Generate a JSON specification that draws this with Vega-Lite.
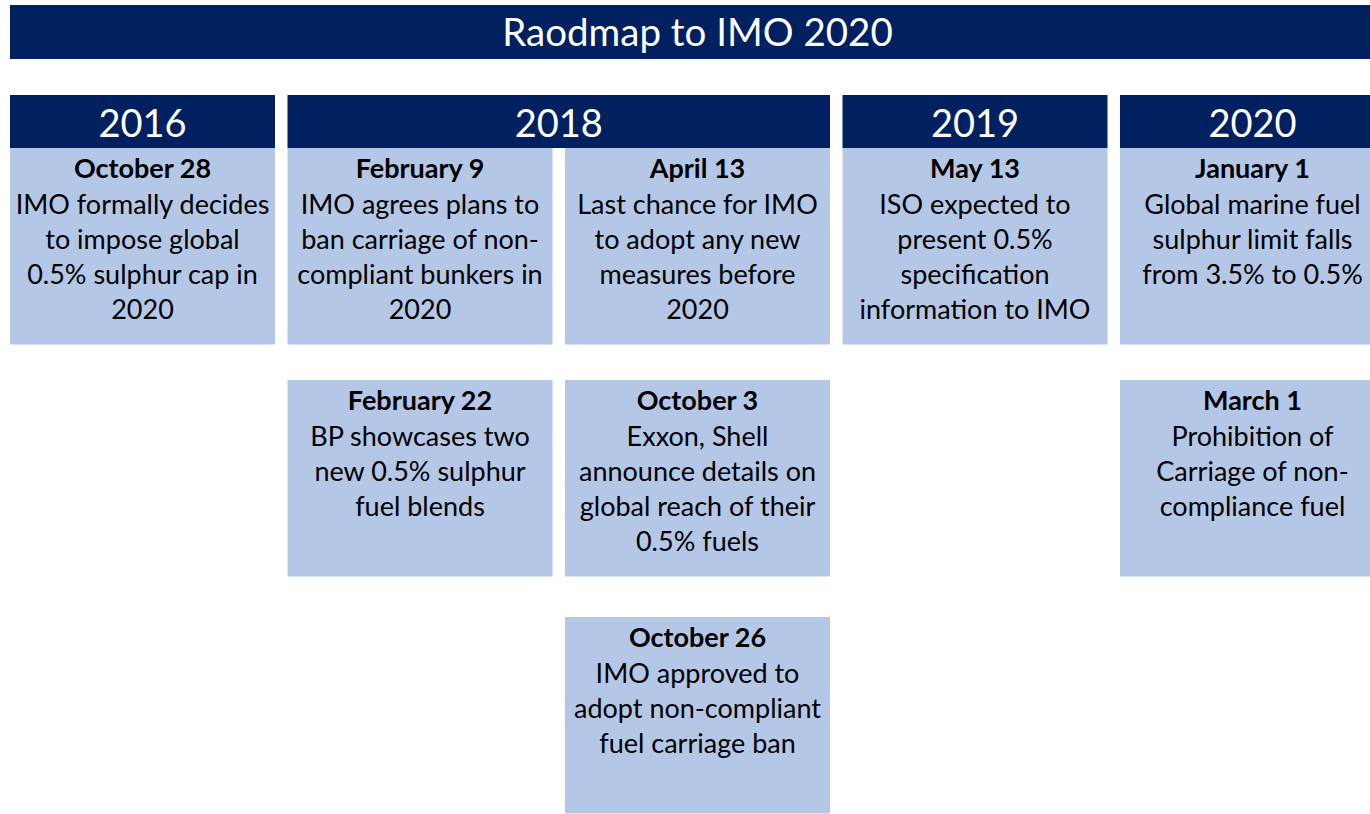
{
  "$schema": "https://vega.github.io/schema/vega-lite/v6.json",
  "width": 1370,
  "height": 814,
  "padding": 0,
  "autosize": {"type": "none"},
  "background": "white",
  "config": {"view": {"stroke": null}},
  "datasets": {
    "title": [{"label": "Raodmap to IMO 2020", "colStart": 0, "colEnd": 5, "row": 1}],
    "years": [
      {"year": "2016", "colStart": 0, "colEnd": 1, "row": 1, "span": 1},
      {"year": "2018", "colStart": 1, "colEnd": 3, "row": 1, "span": 2},
      {"year": "2019", "colStart": 3, "colEnd": 4, "row": 1, "span": 1},
      {"year": "2020", "colStart": 4, "colEnd": 5, "row": 1, "span": 1}
    ],
    "events": [
      {"date": "October 28", "text": "IMO formally decides\nto impose global\n0.5% sulphur cap in\n2020", "col": 0, "row": 1},
      {"date": "February 9", "text": "IMO agrees plans to\nban carriage of non-\ncompliant bunkers in\n2020", "col": 1, "row": 1},
      {"date": "April 13", "text": "Last chance for IMO\nto adopt any new\nmeasures before\n2020", "col": 2, "row": 1},
      {"date": "May 13", "text": "ISO expected to\npresent 0.5%\nspecification\ninformation to IMO", "col": 3, "row": 1},
      {"date": "January 1", "text": "Global marine fuel\nsulphur limit falls\nfrom 3.5% to 0.5%", "col": 4, "row": 1},
      {"date": "February 22", "text": "BP showcases two\nnew 0.5% sulphur\nfuel blends", "col": 1, "row": 2},
      {"date": "October 3", "text": "Exxon, Shell\nannounce details on\nglobal reach of their\n0.5% fuels", "col": 2, "row": 2},
      {"date": "March 1", "text": "Prohibition of\nCarriage of non-\ncompliance fuel", "col": 4, "row": 2},
      {"date": "October 26", "text": "IMO approved to\nadopt non-compliant\nfuel carriage ban", "col": 2, "row": 3}
    ]
  },
  "layer": [
    {
      "data": {"name": "title"},
      "mark": {"type": "rect", "color": "#002060", "yOffset": -143, "y2Offset": -89},
      "encoding": {
        "x": {"field": "colStart", "type": "quantitative", "scale": {"domain": [0, 5], "range": [10, 1397.5], "nice": false, "zero": false}, "axis": null},
        "x2": {"field": "colEnd"},
        "y": {"field": "row", "type": "quantitative", "scale": {"domain": [1, 2, 3], "range": [148, 380, 617], "nice": false, "zero": false}, "axis": null},
        "y2": {"field": "row"}
      }
    },
    {
      "data": {"name": "title"},
      "mark": {"type": "text", "color": "white", "font": "Lato", "fontSize": 38.5, "align": "center", "baseline": "alphabetic", "dx": 687.5, "dy": -102},
      "encoding": {
        "x": {"field": "colStart", "type": "quantitative"},
        "y": {"field": "row", "type": "quantitative"},
        "text": {"field": "label"}
      }
    },
    {
      "data": {"name": "years"},
      "mark": {"type": "rect", "color": "#002060", "yOffset": -53, "x2Offset": -12.5},
      "encoding": {
        "x": {"field": "colStart", "type": "quantitative"},
        "x2": {"field": "colEnd"},
        "y": {"field": "row", "type": "quantitative"},
        "y2": {"field": "row"}
      }
    },
    {
      "data": {"name": "years"},
      "transform": [{"filter": "datum.span == 1"}],
      "mark": {"type": "text", "color": "white", "font": "Lato", "fontSize": 38, "align": "center", "baseline": "alphabetic", "dx": 132.5, "dy": -11},
      "encoding": {
        "x": {"field": "colStart", "type": "quantitative"},
        "y": {"field": "row", "type": "quantitative"},
        "text": {"field": "year"}
      }
    },
    {
      "data": {"name": "years"},
      "transform": [{"filter": "datum.span == 2"}],
      "mark": {"type": "text", "color": "white", "font": "Lato", "fontSize": 38, "align": "center", "baseline": "alphabetic", "dx": 271.25, "dy": -11},
      "encoding": {
        "x": {"field": "colStart", "type": "quantitative"},
        "y": {"field": "row", "type": "quantitative"},
        "text": {"field": "year"}
      }
    },
    {
      "data": {"name": "events"},
      "mark": {"type": "rect", "color": "#B4C7E7", "x2Offset": 265, "y2Offset": 196.5},
      "encoding": {
        "x": {"field": "col", "type": "quantitative"},
        "x2": {"field": "col"},
        "y": {"field": "row", "type": "quantitative"},
        "y2": {"field": "row"}
      }
    },
    {
      "data": {"name": "events"},
      "mark": {"type": "text", "color": "black", "font": "Lato", "fontSize": 27, "fontWeight": "bold", "align": "center", "baseline": "alphabetic", "dx": 132.5, "dy": 30},
      "encoding": {
        "x": {"field": "col", "type": "quantitative"},
        "y": {"field": "row", "type": "quantitative"},
        "text": {"field": "date"}
      }
    },
    {
      "data": {"name": "events"},
      "mark": {"type": "text", "color": "black", "font": "Lato", "fontSize": 27, "align": "center", "baseline": "alphabetic", "lineBreak": "\n", "lineHeight": 35, "dx": 132.5, "dy": 65.5},
      "encoding": {
        "x": {"field": "col", "type": "quantitative"},
        "y": {"field": "row", "type": "quantitative"},
        "text": {"field": "text"}
      }
    }
  ]
}
